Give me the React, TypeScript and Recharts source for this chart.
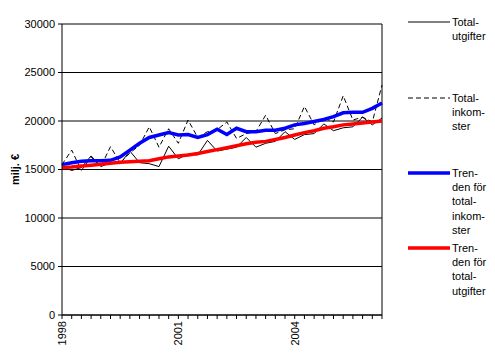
import React from 'react';
import {
  LineChart, Line, XAxis, YAxis, CartesianGrid, Legend, ReferenceLine
} from 'recharts';

// quarters 1998/1 .. 2006/2
const quarters = [
  '1998/1', '1998/2', '1998/3', '1998/4',
  '1999/1', '1999/2', '1999/3', '1999/4',
  '2000/1', '2000/2', '2000/3', '2000/4',
  '2001/1', '2001/2', '2001/3', '2001/4',
  '2002/1', '2002/2', '2002/3', '2002/4',
  '2003/1', '2003/2', '2003/3', '2003/4',
  '2004/1', '2004/2', '2004/3', '2004/4',
  '2005/1', '2005/2', '2005/3', '2005/4',
  '2006/1', '2006/2',
];
const yearLabels = ['1998', '2001', '2004'];

const totalUtgifter = [
  15300, 14900, 15200, 16400, 15300, 15700, 15600, 16900,
  15700, 15600, 15300, 17400, 16100, 16600, 16500, 18000,
  16900, 17100, 17300, 18300, 17300, 17700, 17900, 18900,
  18100, 18600, 18700, 19700, 19000, 19300, 19400, 20400,
  19600, 20300,
];
const totalInkomster = [
  15500, 17000, 14900, 16300, 15300, 17350, 15700, 16700,
  17500, 19400, 17300, 19200, 17700, 20100, 18300, 18900,
  19100, 19900, 18200, 18700, 18900, 20600, 18700, 19100,
  19200, 21500, 19600, 20300, 19900, 22600, 20100, 20400,
  19900, 23700,
];
const trendInkomster = [
  15500, 15700, 15850, 15900, 15900, 15950, 16300, 17000,
  17700, 18300, 18550, 18800, 18550, 18600, 18300, 18600,
  19150, 18600, 19250, 18900, 18900, 19050, 19050, 19250,
  19600, 19750, 19950, 20150, 20450, 20850, 20900, 20900,
  21300, 21850,
];
const trendUtgifter = [
  15200, 15250, 15350, 15450, 15550, 15650, 15750, 15800,
  15850, 15900, 16100, 16300, 16400, 16500, 16650, 16850,
  17050, 17250, 17450, 17650, 17800, 17900, 18100, 18300,
  18550, 18800, 19000, 19250, 19400, 19600, 19700, 19800,
  19900, 20000,
];
const yTicks = [0, 5000, 10000, 15000, 20000, 25000, 30000];

const data = quarters.map((q, i) => ({
  q,
  utg: totalUtgifter[i],
  ink: totalInkomster[i],
  trendInk: trendInkomster[i],
  trendUtg: trendUtgifter[i],
}));

const FONT = '"Liberation Sans", Arial, sans-serif';

// legend text broken the way the original does it
const legendLines: Record<string, string[]> = {
  utg: ['Total-', 'utgifter'],
  ink: ['Total-', 'inkom-', 'ster'],
  trendInk: ['Tren-', 'den för', 'total-', 'inkom-', 'ster'],
  trendUtg: ['Tren-', 'den för', 'total-', 'utgifter'],
};
const legendTops: Record<string, number> = { utg: 22, ink: 98, trendInk: 173, trendUtg: 248 };

const renderLegend = (props: any) => {
  const { payload } = props;
  return (
    <svg width={100} height={300} style={{ display: 'block' }}>
      {payload.map((entry: any) => {
        const key = entry.dataKey as string;
        const y = legendTops[key];
        const p = entry.payload || {};
        return (
          <g key={key}>
            <line
              x1={13} x2={55} y1={y} y2={y}
              stroke={entry.color}
              strokeWidth={p.strokeWidth || 1}
              strokeDasharray={p.strokeDasharray}
            />
            {legendLines[key].map((t, j) => (
              <text
                key={j} x={57} y={y + j * 14.3} dy="0.35em"
                fontFamily={FONT} fontSize={11} fill="#000"
              >{t}</text>
            ))}
          </g>
        );
      })}
    </svg>
  );
};

const YearTick = (props: any) => {
  const { x, y, payload } = props;
  const year = String(payload.value).slice(0, 4);
  if (!String(payload.value).endsWith('/1') || !yearLabels.includes(year)) return null;
  return (
    <text
      x={x} y={y} dy="0.35em" transform={`rotate(-90, ${x}, ${y})`}
      textAnchor="end" fontFamily={FONT} fontSize={11} fill="#000"
    >{year}</text>
  );
};

const App: React.FC = () => {
  return (
    <div style={{ position: 'absolute', left: 0, top: 0, background: '#fff' }}>
      <LineChart
        width={495}
        height={353}
        data={data}
        margin={{ top: 24, right: 13, left: 2, bottom: 8 }}
      >
        <CartesianGrid vertical={false} stroke="#000" strokeWidth={1} />
        <XAxis
          dataKey="q"
          scale="point"
          interval={0}
          stroke="#000"
          tickSize={4}
          tick={<YearTick />}
          height={30}
        />
        <YAxis
          domain={[0, 30000]}
          ticks={yTicks}
          stroke="#000"
          tickSize={4}
          tickMargin={3}
          width={60}
          tick={{ fontSize: 11, fontFamily: FONT, fill: '#000' }}
          label={{
            value: 'milj. €', angle: -90, position: 'insideLeft', offset: 13,
            style: { fontSize: 11, fontFamily: FONT, fontWeight: 'bold', fill: '#000', textAnchor: 'middle' },
          }}
        />
        <ReferenceLine x={quarters[quarters.length - 1]} stroke="#000" />
        <Legend
          layout="vertical"
          align="right"
          verticalAlign="top"
          wrapperStyle={{ left: 395, top: 0, width: 100 }}
          content={renderLegend}
        />
        <Line
          dataKey="utg" name="Total utgifter" stroke="#000" strokeWidth={1}
          dot={false} isAnimationActive={false}
        />
        <Line
          dataKey="ink" name="Total inkomster" stroke="#000" strokeWidth={1}
          strokeDasharray="5 3" dot={false} isAnimationActive={false}
        />
        <Line
          dataKey="trendInk" name="Trenden för totalinkomster" stroke="#0000ff" strokeWidth={3.5}
          dot={false} isAnimationActive={false}
        />
        <Line
          dataKey="trendUtg" name="Trenden för totalutgifter" stroke="#ff0000" strokeWidth={3.5}
          dot={false} isAnimationActive={false}
        />
      </LineChart>
    </div>
  );
};

export default App;
